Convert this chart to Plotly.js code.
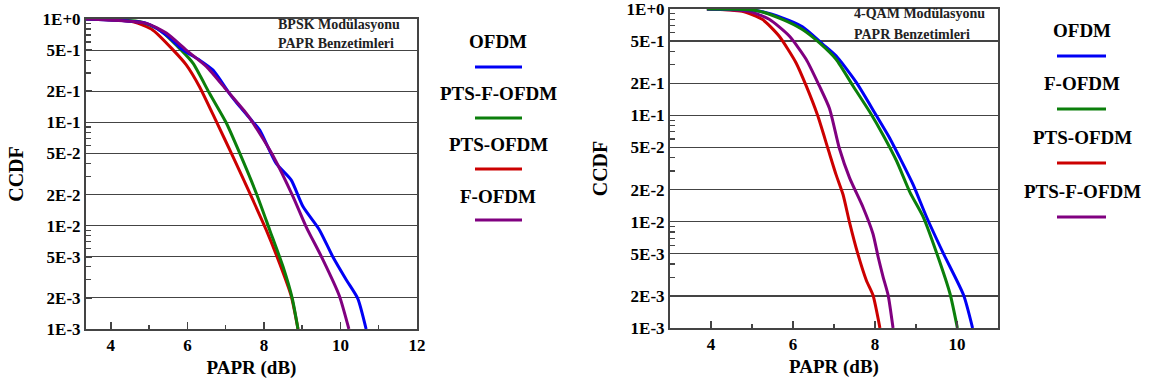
<!DOCTYPE html>
<html>
<head>
<meta charset="utf-8">
<script src="https://cdn.plot.ly/plotly-3.0.1.min.js"></script>
<style>html,body{margin:0;padding:0;background:#fff;}#chart{width:1149px;height:387px;}</style>
</head>
<body>
<div id="chart"></div>
<script>
// ---------- Data: BPSK (left chart) ----------
const bpskOfdmX   = [3.35, 4.93, 5.45, 5.89, 6.32, 6.67, 7.10, 7.37, 7.71, 7.89, 8.32, 8.71, 9.02, 9.45, 9.80, 10.15, 10.45, 10.67];
const bpskOfdmY   = [1.0, 0.908, 0.70, 0.50, 0.40, 0.32, 0.19, 0.142, 0.101, 0.084, 0.040, 0.0277, 0.0153, 0.0091, 0.005, 0.003, 0.00198, 0.001];
const bpskPtsFX   = [3.35, 4.76, 5.28, 5.84, 6.15, 6.58, 7.02, 7.37, 7.80, 8.15, 8.50, 8.74, 8.89];
const bpskPtsFY   = [1.0, 0.94, 0.78, 0.50, 0.372, 0.19, 0.098, 0.050, 0.0206, 0.0091, 0.0040, 0.00198, 0.001];
const bpskPtsX    = [3.35, 4.58, 5.10, 5.63, 5.97, 6.32, 6.76, 7.19, 7.63, 8.06, 8.41, 8.71, 8.89];
const bpskPtsY    = [1.0, 0.94, 0.78, 0.50, 0.36, 0.22, 0.101, 0.0466, 0.0206, 0.0091, 0.0043, 0.0021, 0.001];
const bpskFX      = [3.35, 4.93, 5.45, 5.97, 6.50, 7.02, 7.54, 7.89, 8.23, 8.76, 9.10, 9.54, 9.97, 10.22];
const bpskFY      = [1.0, 0.908, 0.73, 0.50, 0.346, 0.206, 0.122, 0.078, 0.048, 0.0191, 0.0098, 0.0047, 0.0021, 0.001];

// ---------- Data: 4-QAM (right chart) ----------
const qamOfdmX  = [3.90, 5.09, 5.74, 6.23, 6.73, 7.05, 7.54, 8.03, 8.36, 8.61, 8.93, 9.26, 9.67, 10.16, 10.38];
const qamOfdmY  = [1.0, 0.97, 0.824, 0.68, 0.466, 0.363, 0.205, 0.10, 0.061, 0.0396, 0.0223, 0.011, 0.005, 0.00204, 0.001];
const qamFX     = [3.90, 5.09, 5.74, 6.23, 6.64, 7.05, 7.46, 7.87, 8.20, 8.53, 8.85, 9.18, 9.51, 9.83, 10.01];
const qamFY     = [1.0, 0.97, 0.80, 0.642, 0.483, 0.337, 0.19, 0.108, 0.065, 0.037, 0.019, 0.011, 0.005, 0.0021, 0.001];
const qamPtsX   = [3.90, 4.76, 5.25, 5.66, 6.07, 6.32, 6.60, 6.85, 7.05, 7.22, 7.38, 7.58, 7.79, 7.95, 8.12];
const qamPtsY   = [1.0, 0.95, 0.80, 0.557, 0.314, 0.19, 0.10, 0.049, 0.0277, 0.018, 0.0098, 0.005, 0.0028, 0.00204, 0.001];
const qamPtsFX  = [3.90, 4.92, 5.42, 5.91, 6.32, 6.64, 6.89, 7.13, 7.38, 7.71, 7.95, 8.08, 8.20, 8.32, 8.44];
const qamPtsFY  = [1.0, 0.95, 0.80, 0.557, 0.337, 0.19, 0.116, 0.049, 0.0258, 0.0136, 0.0077, 0.0046, 0.003, 0.00204, 0.001];

// ---------- Ticks ----------
const yTickVals  = [1, 0.5, 0.2, 0.1, 0.05, 0.02, 0.01, 0.005, 0.002, 0.001];
const yTickText  = ["1E+0", "5E-1", "2E-1", "1E-1", "5E-2", "2E-2", "1E-2", "5E-3", "2E-3", "1E-3"];
const yMinorVals = [0.9, 0.8, 0.7, 0.6, 0.4, 0.3, 0.09, 0.08, 0.07, 0.06, 0.04, 0.03, 0.009, 0.008, 0.007, 0.006, 0.004, 0.003];
const xTickLeft  = [4, 6, 8, 10, 12];
const xMinorLeft = [5, 7, 9, 11];
const xTickRight = [4, 6, 8, 10];
const xMinorRight = [5, 7, 9];

const leftNames  = ["OFDM", "PTS-F-OFDM", "PTS-OFDM", "F-OFDM"];
const rightNames = ["OFDM", "F-OFDM", "PTS-OFDM", "PTS-F-OFDM"];

const BLUE = "#0000f5", GREEN = "#0b7f0b", RED = "#cc0000", PURPLE = "#800080";
const leftColors  = [BLUE, GREEN, RED, PURPLE];
const rightColors = [BLUE, GREEN, RED, PURPLE];

const W = 1149, H = 387;
const fx = p => p / W;
const fy = p => 1 - p / H;

function tr(x, y, color, name, xa, ya) {
  return {x: x, y: y, type: "scatter", mode: "lines", name: name,
          line: {color: color, width: 3, shape: "spline", smoothing: 0.6},
          xaxis: xa, yaxis: ya, showlegend: false, hoverinfo: "skip"};
}

const data = [
  tr(bpskPtsX, bpskPtsY, RED, "PTS-OFDM", "x", "y"),
  tr(bpskPtsFX, bpskPtsFY, GREEN, "PTS-F-OFDM", "x", "y"),
  tr(bpskOfdmX, bpskOfdmY, BLUE, "OFDM", "x", "y"),
  tr(bpskFX, bpskFY, PURPLE, "F-OFDM", "x", "y"),
  tr(qamPtsX, qamPtsY, RED, "PTS-OFDM", "x2", "y2"),
  tr(qamPtsFX, qamPtsFY, PURPLE, "PTS-F-OFDM", "x2", "y2"),
  tr(qamOfdmX, qamOfdmY, BLUE, "OFDM", "x2", "y2"),
  tr(qamFX, qamFY, GREEN, "F-OFDM", "x2", "y2")
];

const FONT = "Liberation Serif";
const AXC = "#444";
const b = s => "<b>" + s + "</b>";

function xAxis(domain, range, vals, minor, anchor) {
  return {
    domain: domain, range: range, anchor: anchor,
    tickmode: "array", tickvals: vals, ticktext: vals.map(v => b(String(v))),
    ticks: "inside", ticklen: 7, tickwidth: 1.5, tickcolor: AXC,
    minor: {tickvals: minor, ticks: "inside", ticklen: 4, tickwidth: 1.5, tickcolor: AXC},
    showline: true, linecolor: AXC, linewidth: 2, mirror: true,
    showgrid: false, zeroline: false, ticklabeloverflow: "allow",
    tickfont: {family: FONT, size: 17, color: "#000"},
    title: {text: b("PAPR (dB)"), font: {family: FONT, size: 19, color: "#000"}, standoff: 6}
  };
}
function yAxis(domain, anchor) {
  return {
    domain: domain, type: "log", range: [-3, 0], anchor: anchor,
    tickmode: "array", tickvals: yTickVals, ticktext: yTickText.map(b),
    ticks: "inside", ticklen: 6, tickwidth: 1.5, tickcolor: AXC,
    minor: {tickvals: yMinorVals, ticks: "inside", ticklen: 5, tickwidth: 1.2, tickcolor: AXC},
    showline: true, linecolor: AXC, linewidth: 2, mirror: true,
    showgrid: true, gridcolor: "#444", gridwidth: 1.2, zeroline: false,
    ticklabeloverflow: "allow",
    tickfont: {family: FONT, size: 17, color: "#000"},
    title: {text: b("CCDF"), font: {family: FONT, size: 20, color: "#000"}, standoff: 14}
  };
}

const annotations = [];
const shapes = [];
function legend(names, colors, cx, textY, lineY, x0, x1) {
  names.forEach((n, i) => {
    annotations.push({text: b(n), xref: "paper", yref: "paper", x: fx(cx), y: fy(textY[i]),
      xanchor: "center", yanchor: "middle", showarrow: false,
      font: {family: FONT, size: 19, color: "#000"}});
    shapes.push({type: "line", xref: "paper", yref: "paper", x0: fx(x0), x1: fx(x1),
      y0: fy(lineY[i]), y1: fy(lineY[i]), line: {color: colors[i], width: 3}});
  });
}
legend(leftNames, leftColors, 498, [42, 93, 144, 196], [67, 118, 169, 220], 475, 522);
legend(rightNames, rightColors, 1082, [31, 84, 137, 191], [56, 109, 163, 217], 1057, 1106);

function note(text, x, y) {
  annotations.push({text: b(text), xref: "paper", yref: "paper", x: fx(x), y: fy(y),
    xanchor: "left", yanchor: "middle", showarrow: false,
    font: {family: FONT, size: 14, color: "#222"}});
}
note("BPSK Modülasyonu", 276, 24);
note("PAPR Benzetimleri", 276, 43);
note("4-QAM Modülasyonu", 852, 14);
note("PAPR Benzetimleri", 852, 34);

const layout = {
  width: W, height: H,
  margin: {l: 0, r: 0, t: 0, b: 0},
  paper_bgcolor: "#fff", plot_bgcolor: "#fff",
  showlegend: false,
  font: {family: FONT},
  xaxis: xAxis([fx(86), fx(417)], [3.35, 12], xTickLeft, xMinorLeft, "y"),
  yaxis: yAxis([fy(329), fy(19)], "x"),
  xaxis2: xAxis([fx(670), fx(998)], [3, 11], xTickRight, xMinorRight, "y2"),
  yaxis2: yAxis([fy(328), fy(9)], "x2"),
  annotations: annotations,
  shapes: shapes
};

Plotly.newPlot("chart", data, layout, {displayModeBar: false, staticPlot: true});
</script>
</body>
</html>
